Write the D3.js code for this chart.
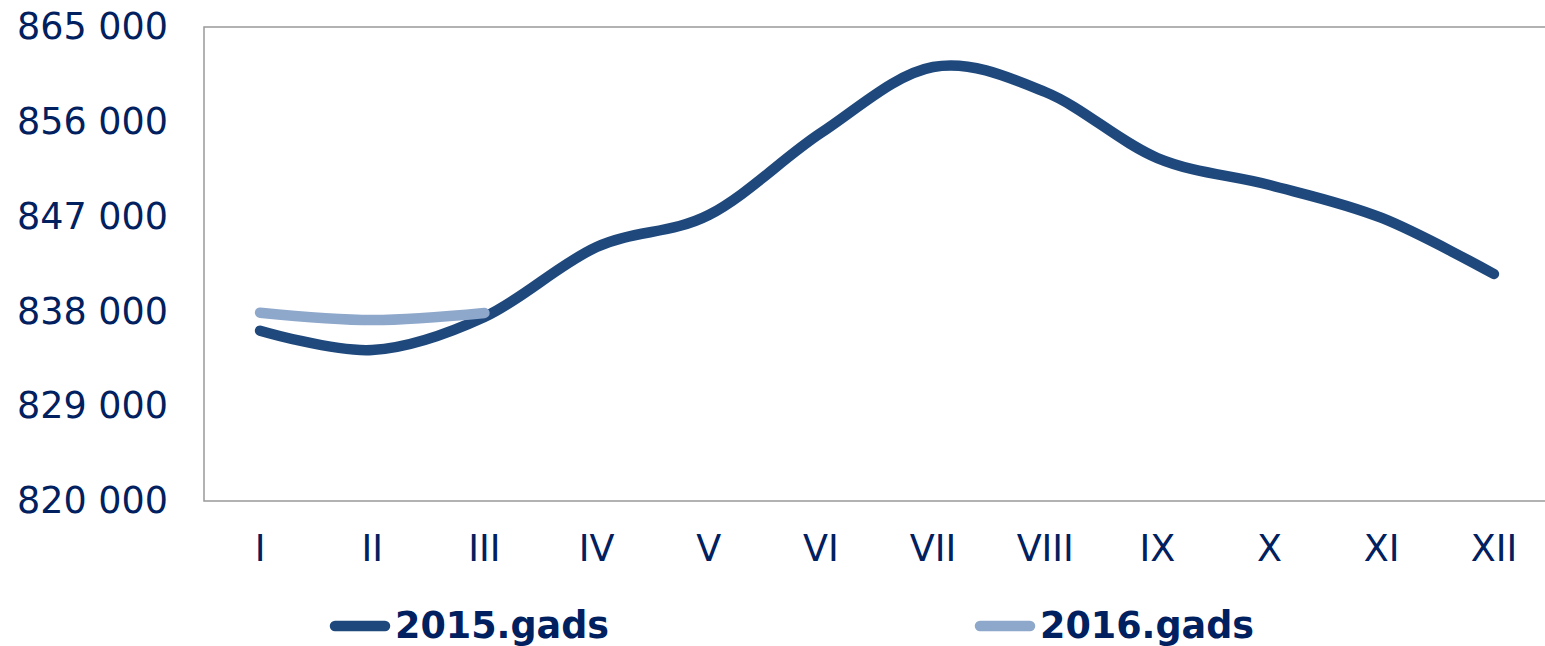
<!DOCTYPE html>
<html>
<head>
<meta charset="utf-8">
<script src="https://cdn.jsdelivr.net/npm/d3@7"></script>
<style>
  html, body { margin: 0; padding: 0; background: #fff; }
  svg { display: block; }
  text { font-family: Verdana, "DejaVu Sans", sans-serif; fill: #002060; }
</style>
</head>
<body>
<svg id="chart" width="1545" height="646"></svg>
<script>
const categories = ["I","II","III","IV","V","VI","VII","VIII","IX","X","XI","XII"];
const values2015 = [836170, 834330, 837470, 844110, 847150, 854940, 861200, 858830, 852560, 850000, 846870, 841550];
const values2016 = [837880, 837180, 837850];
const seriesNames = ["2015.gads", "2016.gads"];
const yTicks = [820000, 829000, 838000, 847000, 856000, 865000];

(function () {
const svg = d3.select("#chart");
const mLeft = 204, mRight = 1550, mTop = 27, mBottom = 501;

const x = d3.scaleBand().domain(categories).range([mLeft, mRight]);
const y = d3.scaleLinear().domain([820000, 865000]).range([mBottom, mTop]);

// frame: left, top, bottom lines
svg.append("path")
  .attr("d", `M${mRight},${mTop}H${mLeft}V${mBottom}H${mRight}`)
  .attr("fill", "none").attr("stroke", "#999").attr("stroke-width", 1.5);

const fmt = v => d3.format(",")(v).replace(/,/g, " ");

// y axis labels
const yAxis = d3.axisLeft(y).tickValues(yTicks).tickSize(0).tickPadding(36).tickFormat(fmt);
const gy = svg.append("g").attr("transform", `translate(${mLeft},0)`).call(yAxis);
gy.select(".domain").remove();
gy.selectAll("text").style("font-size", "36.5px").attr("fill", "#002060")
  .style("font-family", 'Verdana, "DejaVu Sans", sans-serif');

// x axis labels
const xAxis = d3.axisBottom(x).tickSize(0).tickPadding(34);
const gx = svg.append("g").attr("transform", `translate(0,${mBottom})`).call(xAxis);
gx.select(".domain").remove();
gx.selectAll("text").style("font-size", "36.5px").attr("fill", "#002060")
  .style("font-family", 'Verdana, "DejaVu Sans", sans-serif');

const line = d3.line()
  .x((d, i) => x(categories[i]) + x.bandwidth() / 2)
  .y(d => y(d))
  .curve(d3.curveCardinal.tension(0));

const colors = ["#1f497d", "#8ea8cc"];

svg.append("path").datum(values2015)
  .attr("d", line).attr("fill", "none").attr("stroke", colors[0])
  .attr("stroke-width", 10.5).attr("stroke-linecap", "round").attr("stroke-linejoin", "round");
svg.append("path").datum(values2016)
  .attr("d", line).attr("fill", "none").attr("stroke", colors[1])
  .attr("stroke-width", 10.5).attr("stroke-linecap", "round").attr("stroke-linejoin", "round");

// legend
const legendX = [335, 980];
seriesNames.forEach((name, i) => {
  const g = svg.append("g").attr("transform", `translate(${legendX[i]},626)`);
  g.append("line").attr("x1", 0).attr("x2", 50).attr("y1", 0).attr("y2", 0)
    .attr("stroke", colors[i]).attr("stroke-width", 10.5).attr("stroke-linecap", "round");
  g.append("text").attr("x", 60).attr("y", 12)
    .style("font-size", "36.5px").style("font-weight", "bold").text(name);
});
})();
</script>
</body>
</html>
